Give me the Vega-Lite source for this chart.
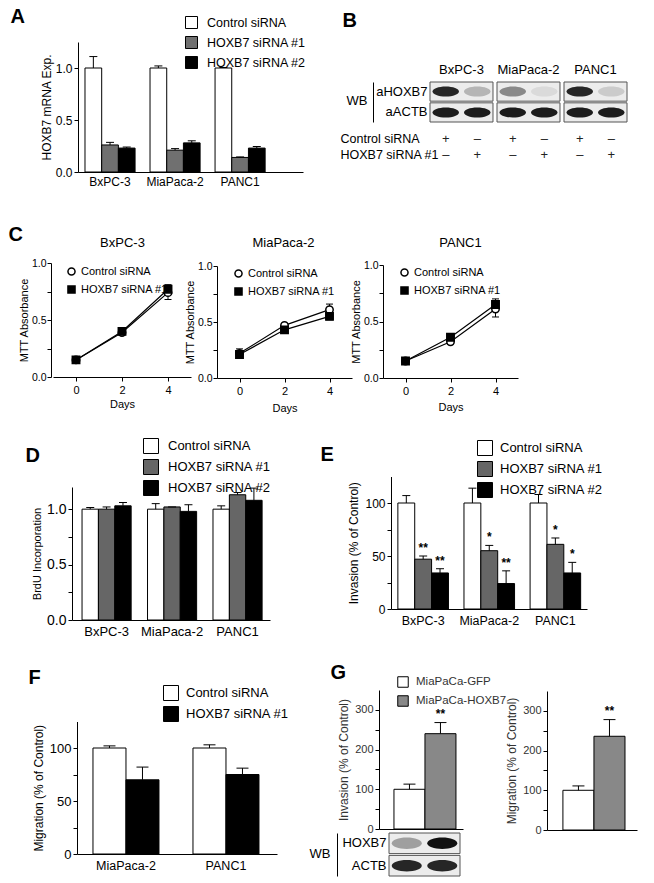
{
"$schema": "https://vega.github.io/schema/vega-lite/v6.json",
"width": 654, "height": 883,
"autosize": {"type": "none"},
"padding": 0,
"background": "white",
"config": {
 "view": {"stroke": null},
 "font": "Liberation Sans",
 "axis": {"grid": false, "domainColor": "black", "tickColor": "black", "labelColor": "black", "titleColor": "black", "titleFontWeight": "normal", "tickSize": 4, "labelFont": "Liberation Sans", "titleFont": "Liberation Sans", "labelOverlap": false, "labelFlush": false},
 "legend": {"padding": 0, "labelColor": "black", "labelFont": "Liberation Sans"},
 "text": {"font": "Liberation Sans"}
},
"datasets": {
 "A": [
  {"cell": "BxPC-3", "group": "Control siRNA", "value": 1.0, "hi": 1.11},
  {"cell": "BxPC-3", "group": "HOXB7 siRNA #1", "value": 0.26, "hi": 0.285},
  {"cell": "BxPC-3", "group": "HOXB7 siRNA #2", "value": 0.23, "hi": 0.24},
  {"cell": "MiaPaca-2", "group": "Control siRNA", "value": 1.0, "hi": 1.02},
  {"cell": "MiaPaca-2", "group": "HOXB7 siRNA #1", "value": 0.21, "hi": 0.225},
  {"cell": "MiaPaca-2", "group": "HOXB7 siRNA #2", "value": 0.28, "hi": 0.30},
  {"cell": "PANC1", "group": "Control siRNA", "value": 1.0, "hi": 1.005},
  {"cell": "PANC1", "group": "HOXB7 siRNA #1", "value": 0.14, "hi": 0.145},
  {"cell": "PANC1", "group": "HOXB7 siRNA #2", "value": 0.23, "hi": 0.245}
 ],
 "D": [
  {"cell": "BxPC-3", "group": "Control siRNA", "value": 1.0, "hi": 1.015},
  {"cell": "BxPC-3", "group": "HOXB7 siRNA #1", "value": 1.0, "hi": 1.02},
  {"cell": "BxPC-3", "group": "HOXB7 siRNA #2", "value": 1.03, "hi": 1.06},
  {"cell": "MiaPaca-2", "group": "Control siRNA", "value": 1.0, "hi": 1.05},
  {"cell": "MiaPaca-2", "group": "HOXB7 siRNA #1", "value": 1.02, "hi": 1.02},
  {"cell": "MiaPaca-2", "group": "HOXB7 siRNA #2", "value": 0.98, "hi": 1.04},
  {"cell": "PANC1", "group": "Control siRNA", "value": 1.0, "hi": 1.03},
  {"cell": "PANC1", "group": "HOXB7 siRNA #1", "value": 1.13, "hi": 1.15},
  {"cell": "PANC1", "group": "HOXB7 siRNA #2", "value": 1.08, "hi": 1.19}
 ],
 "E": [
  {"cell": "BxPC-3", "group": "Control siRNA", "value": 100, "hi": 107, "stars": ""},
  {"cell": "BxPC-3", "group": "HOXB7 siRNA #1", "value": 47, "hi": 50, "stars": "**"},
  {"cell": "BxPC-3", "group": "HOXB7 siRNA #2", "value": 34, "hi": 38, "stars": "**"},
  {"cell": "MiaPaca-2", "group": "Control siRNA", "value": 100, "hi": 114, "stars": ""},
  {"cell": "MiaPaca-2", "group": "HOXB7 siRNA #1", "value": 55, "hi": 60, "stars": "*"},
  {"cell": "MiaPaca-2", "group": "HOXB7 siRNA #2", "value": 24, "hi": 36, "stars": "**"},
  {"cell": "PANC1", "group": "Control siRNA", "value": 100, "hi": 108, "stars": ""},
  {"cell": "PANC1", "group": "HOXB7 siRNA #1", "value": 61, "hi": 67, "stars": "*"},
  {"cell": "PANC1", "group": "HOXB7 siRNA #2", "value": 34, "hi": 44, "stars": "*"}
 ],
 "F": [
  {"cell": "MiaPaca-2", "group": "Control siRNA", "value": 100, "hi": 102},
  {"cell": "MiaPaca-2", "group": "HOXB7 siRNA #1", "value": 70, "hi": 82},
  {"cell": "PANC1", "group": "Control siRNA", "value": 100, "hi": 103},
  {"cell": "PANC1", "group": "HOXB7 siRNA #1", "value": 75, "hi": 81}
 ],
 "G1": [
  {"group": "MiaPaCa-GFP", "value": 100, "hi": 113, "stars": ""},
  {"group": "MiaPaCa-HOXB7", "value": 240, "hi": 268, "stars": "**"}
 ],
 "G2": [
  {"group": "MiaPaCa-GFP", "value": 100, "hi": 111, "stars": ""},
  {"group": "MiaPaCa-HOXB7", "value": 236, "hi": 278, "stars": "**"}
 ],
 "C": [
  {"chart": "BxPC-3", "series": "Control siRNA", "day": 0, "value": 0.15, "lo": 0.14, "hi": 0.16},
  {"chart": "BxPC-3", "series": "Control siRNA", "day": 2, "value": 0.39, "lo": 0.375, "hi": 0.405},
  {"chart": "BxPC-3", "series": "Control siRNA", "day": 4, "value": 0.74, "lo": 0.68, "hi": 0.80},
  {"chart": "BxPC-3", "series": "HOXB7 siRNA #1", "day": 0, "value": 0.15, "lo": 0.14, "hi": 0.16},
  {"chart": "BxPC-3", "series": "HOXB7 siRNA #1", "day": 2, "value": 0.40, "lo": 0.39, "hi": 0.41},
  {"chart": "BxPC-3", "series": "HOXB7 siRNA #1", "day": 4, "value": 0.77, "lo": 0.73, "hi": 0.81},
  {"chart": "MiaPaca-2", "series": "Control siRNA", "day": 0, "value": 0.22, "lo": 0.18, "hi": 0.26},
  {"chart": "MiaPaca-2", "series": "Control siRNA", "day": 2, "value": 0.47, "lo": 0.455, "hi": 0.485},
  {"chart": "MiaPaca-2", "series": "Control siRNA", "day": 4, "value": 0.61, "lo": 0.56, "hi": 0.66},
  {"chart": "MiaPaca-2", "series": "HOXB7 siRNA #1", "day": 0, "value": 0.21, "lo": 0.18, "hi": 0.24},
  {"chart": "MiaPaca-2", "series": "HOXB7 siRNA #1", "day": 2, "value": 0.43, "lo": 0.415, "hi": 0.445},
  {"chart": "MiaPaca-2", "series": "HOXB7 siRNA #1", "day": 4, "value": 0.55, "lo": 0.52, "hi": 0.58},
  {"chart": "PANC1", "series": "Control siRNA", "day": 0, "value": 0.15, "lo": 0.14, "hi": 0.16},
  {"chart": "PANC1", "series": "Control siRNA", "day": 2, "value": 0.32, "lo": 0.30, "hi": 0.34},
  {"chart": "PANC1", "series": "Control siRNA", "day": 4, "value": 0.61, "lo": 0.54, "hi": 0.68},
  {"chart": "PANC1", "series": "HOXB7 siRNA #1", "day": 0, "value": 0.15, "lo": 0.14, "hi": 0.16},
  {"chart": "PANC1", "series": "HOXB7 siRNA #1", "day": 2, "value": 0.36, "lo": 0.34, "hi": 0.38},
  {"chart": "PANC1", "series": "HOXB7 siRNA #1", "day": 4, "value": 0.65, "lo": 0.61, "hi": 0.70}
 ],
 "Bblot": [
  {"cell": "BxPC-3", "lane": "Control", "row": "aHOXB7", "intensity": 0.9},
  {"cell": "BxPC-3", "lane": "HOXB7", "row": "aHOXB7", "intensity": 0.25},
  {"cell": "MiaPaca-2", "lane": "Control", "row": "aHOXB7", "intensity": 0.45},
  {"cell": "MiaPaca-2", "lane": "HOXB7", "row": "aHOXB7", "intensity": 0.08},
  {"cell": "PANC1", "lane": "Control", "row": "aHOXB7", "intensity": 0.9},
  {"cell": "PANC1", "lane": "HOXB7", "row": "aHOXB7", "intensity": 0.15},
  {"cell": "BxPC-3", "lane": "Control", "row": "aACTB", "intensity": 0.95},
  {"cell": "BxPC-3", "lane": "HOXB7", "row": "aACTB", "intensity": 0.95},
  {"cell": "MiaPaca-2", "lane": "Control", "row": "aACTB", "intensity": 0.95},
  {"cell": "MiaPaca-2", "lane": "HOXB7", "row": "aACTB", "intensity": 0.95},
  {"cell": "PANC1", "lane": "Control", "row": "aACTB", "intensity": 0.95},
  {"cell": "PANC1", "lane": "HOXB7", "row": "aACTB", "intensity": 0.95}
 ],
 "Btable": [
  {"cell": "BxPC-3", "lane": "Control", "row": "Control siRNA", "sign": "+"},
  {"cell": "BxPC-3", "lane": "Control", "row": "HOXB7 siRNA #1", "sign": "–"},
  {"cell": "BxPC-3", "lane": "HOXB7", "row": "Control siRNA", "sign": "–"},
  {"cell": "BxPC-3", "lane": "HOXB7", "row": "HOXB7 siRNA #1", "sign": "+"},
  {"cell": "MiaPaca-2", "lane": "Control", "row": "Control siRNA", "sign": "+"},
  {"cell": "MiaPaca-2", "lane": "Control", "row": "HOXB7 siRNA #1", "sign": "–"},
  {"cell": "MiaPaca-2", "lane": "HOXB7", "row": "Control siRNA", "sign": "–"},
  {"cell": "MiaPaca-2", "lane": "HOXB7", "row": "HOXB7 siRNA #1", "sign": "+"},
  {"cell": "PANC1", "lane": "Control", "row": "Control siRNA", "sign": "+"},
  {"cell": "PANC1", "lane": "Control", "row": "HOXB7 siRNA #1", "sign": "–"},
  {"cell": "PANC1", "lane": "HOXB7", "row": "Control siRNA", "sign": "–"},
  {"cell": "PANC1", "lane": "HOXB7", "row": "HOXB7 siRNA #1", "sign": "+"}
 ],
 "Gblot": [
  {"blot": "G", "lane": "MiaPaCa-GFP", "row": "HOXB7", "intensity": 0.35},
  {"blot": "G", "lane": "MiaPaCa-HOXB7", "row": "HOXB7", "intensity": 1.0},
  {"blot": "G", "lane": "MiaPaCa-GFP", "row": "ACTB", "intensity": 0.9},
  {"blot": "G", "lane": "MiaPaCa-HOXB7", "row": "ACTB", "intensity": 0.9}
 ]
},
"resolve": {
 "scale": {"x": "independent", "y": "independent", "xOffset": "independent", "fill": "independent", "shape": "independent", "stroke": "independent", "opacity": "independent"},
 "axis": {"x": "independent", "y": "independent"},
 "legend": {"fill": "independent", "shape": "independent", "stroke": "independent", "opacity": "independent"}
},
"layer": [
 {
  "data": {"name": "A"},
  "resolve": {"axis": {"x": "independent", "y": "independent"}},
  "layer": [
   {"mark": {"type": "bar", "stroke": "black", "strokeWidth": 1},
    "encoding": {
     "x": {"field": "cell", "type": "nominal", "sort": null, "scale": {"type": "band", "domain": ["BxPC-3", "MiaPaca-2", "PANC1"], "range": [78, 303], "paddingInner": 0.23, "paddingOuter": 0.345, "align": 0.156},
           "axis": {"orient": "bottom", "offset": -711, "ticks": false, "labelPadding": 4, "labelFontSize": 12, "labelAngle": 0, "title": null}},
     "xOffset": {"field": "group", "type": "nominal", "sort": null, "scale": {"type": "band", "domain": ["Control siRNA", "HOXB7 siRNA #1", "HOXB7 siRNA #2"], "paddingInner": 0, "paddingOuter": 0}},
     "y": {"field": "value", "type": "quantitative", "scale": {"domain": [0, 1.25], "range": [172, 42], "nice": false},
           "axis": {"orient": "left", "offset": -78, "values": [0, 0.5, 1], "format": ".1f", "labelFontSize": 12, "title": "HOXB7 mRNA Exp.", "titleFontSize": 12, "titlePadding": 2}},
     "fill": {"field": "group", "type": "nominal", "sort": null, "scale": {"domain": ["Control siRNA", "HOXB7 siRNA #1", "HOXB7 siRNA #2"], "range": ["white", "#707070", "black"]},
              "legend": {"title": null, "orient": "none", "legendX": 185, "legendY": 16, "symbolType": "square", "symbolSize": 144, "symbolStrokeColor": "black", "symbolStrokeWidth": 1, "labelFontSize": 12.5, "labelOffset": 9, "rowPadding": 3}}
    }},
   {"mark": {"type": "rule", "color": "black", "strokeWidth": 1},
    "encoding": {
     "x": {"field": "cell", "type": "nominal", "sort": null,
           "axis": {"orient": "top", "offset": 0, "labels": false, "ticks": false, "domain": false, "title": "A", "titleX": 10, "titleY": 22, "titleAlign": "left", "titleBaseline": "alphabetic", "titleAngle": 0, "titleFontSize": 20, "titleFontWeight": "bold"}},
     "xOffset": {"field": "group", "type": "nominal", "sort": null},
     "y": {"field": "value", "type": "quantitative", "axis": null},
     "y2": {"field": "hi"}
    }},
   {"mark": {"type": "tick", "orient": "horizontal", "size": 8, "thickness": 1, "color": "black", "opacity": 1},
    "encoding": {
     "x": {"field": "cell", "type": "nominal", "sort": null, "axis": null},
     "xOffset": {"field": "group", "type": "nominal", "sort": null},
     "y": {"field": "hi", "type": "quantitative", "axis": null}
    }}
  ]
 },
 {
  "data": {"name": "Bblot"},
  "resolve": {"axis": {"x": "independent", "y": "independent"}},
  "layer": [
   {"mark": {"type": "rect", "fill": "#ececec", "stroke": "#555555", "strokeWidth": 1},
    "transform": [{"filter": "datum.lane === 'Control'"}],
    "encoding": {
     "x": {"field": "cell", "type": "nominal", "sort": null, "scale": {"type": "band", "domain": ["BxPC-3", "MiaPaca-2", "PANC1"], "range": [430, 627], "paddingInner": 0.06, "paddingOuter": 0},
           "axis": {"orient": "top", "offset": -80, "ticks": false, "domain": false, "labelPadding": 4, "labelFontSize": 13, "labelAngle": 0, "title": "B", "titleX": 342, "titleY": -54, "titleAlign": "left", "titleBaseline": "alphabetic", "titleAngle": 0, "titleFontSize": 20, "titleFontWeight": "bold"}},
     "y": {"field": "row", "type": "nominal", "sort": null, "scale": {"type": "band", "domain": ["aHOXB7", "aACTB"], "range": [82, 122], "paddingInner": 0.08, "paddingOuter": 0},
           "axis": {"orient": "left", "offset": -430, "ticks": false, "domain": false, "labelPadding": 3, "labelFontSize": 13, "title": null}}
    }},
   {"mark": {"type": "point", "shape": "M-1,0A1,0.38,0,1,0,1,0A1,0.38,0,1,0,-1,0Z", "filled": true, "color": "#111111", "size": 700, "strokeWidth": 0},
    "encoding": {
     "x": {"field": "cell", "type": "nominal", "sort": null, "axis": null},
     "xOffset": {"field": "lane", "type": "nominal", "sort": null, "scale": {"type": "band", "domain": ["Control", "HOXB7"], "paddingInner": 0, "paddingOuter": 0}},
     "y": {"field": "row", "type": "nominal", "sort": null,
           "axis": {"orient": "left", "offset": -373, "ticks": false, "labels": false, "domain": true, "title": "WB", "titleAngle": 0, "titleAlign": "right", "titleBaseline": "middle", "titleX": -6, "titleY": 100, "titleFontSize": 13}},
     "opacity": {"field": "intensity", "type": "quantitative", "scale": {"domain": [0, 1], "range": [0, 1]}, "legend": null}
    }}
  ]
 },
 {
  "data": {"name": "Btable"},
  "mark": {"type": "text", "fontSize": 13, "color": "#222222"},
  "encoding": {
   "x": {"field": "cell", "type": "nominal", "sort": null, "scale": {"type": "band", "domain": ["BxPC-3", "MiaPaca-2", "PANC1"], "range": [430, 627], "paddingInner": 0.06, "paddingOuter": 0}, "axis": null},
   "xOffset": {"field": "lane", "type": "nominal", "sort": null, "scale": {"type": "band", "domain": ["Control", "HOXB7"], "paddingInner": 0, "paddingOuter": 0}},
   "y": {"field": "row", "type": "nominal", "sort": null, "scale": {"type": "band", "domain": ["Control siRNA", "HOXB7 siRNA #1"], "range": [131, 163], "paddingInner": 0, "paddingOuter": 0},
         "axis": {"orient": "left", "offset": -342, "ticks": false, "domain": false, "labelAlign": "left", "labelPadding": 2, "labelFontSize": 12.5, "title": null}},
   "text": {"field": "sign"}
  }
 },
 {
  "data": {"name": "C"},
  "transform": [{"filter": "datum.chart === 'BxPC-3'"}],
  "resolve": {"axis": {"x": "independent", "y": "independent"}},
  "layer": [
   {"mark": {"type": "line", "color": "black", "strokeWidth": 1.2},
    "encoding": {
     "x": {"field": "day", "type": "quantitative", "scale": {"domain": [-1, 5], "range": [53, 191], "nice": false, "zero": false},
           "axis": {"orient": "bottom", "offset": -506, "values": [0, 2, 4], "labelFontSize": 11, "labelPadding": 3, "title": "Days", "titleFontSize": 11, "titlePadding": 3}},
     "y": {"field": "value", "type": "quantitative", "scale": {"domain": [0, 1], "range": [377, 263], "nice": false},
           "axis": {"orient": "left", "offset": -51, "values": [0, 0.25, 0.5, 0.75, 1], "labelExpr": "datum.value % 0.5 === 0 ? format(datum.value, '.1f') : ''", "labelFontSize": 10.5, "labelPadding": 1, "title": "MTT Absorbance", "titleFontSize": 11, "titlePadding": 2}},
     "detail": {"field": "series", "type": "nominal"}
    }},
   {"mark": {"type": "rule", "color": "black", "strokeWidth": 1},
    "encoding": {
     "x": {"field": "day", "type": "quantitative", "axis": {"orient": "top", "offset": 0, "labels": false, "ticks": false, "domain": false, "title": "BxPC-3", "titleX": 122, "titleY": 246, "titleAlign": "center", "titleBaseline": "alphabetic", "titleAngle": 0, "titleFontSize": 13}},
     "y": {"field": "lo", "type": "quantitative", "axis": null},
     "y2": {"field": "hi"}
    }},
   {"mark": {"type": "tick", "orient": "horizontal", "size": 7, "thickness": 1, "color": "black", "opacity": 1},
    "encoding": {"x": {"field": "day", "type": "quantitative", "axis": null}, "y": {"field": "hi", "type": "quantitative", "axis": null}}},
   {"mark": {"type": "tick", "orient": "horizontal", "size": 7, "thickness": 1, "color": "black", "opacity": 1},
    "encoding": {"x": {"field": "day", "type": "quantitative", "axis": null}, "y": {"field": "lo", "type": "quantitative", "axis": null}}},
   {"mark": {"type": "point", "filled": true, "strokeWidth": 1.5, "size": 55, "opacity": 1},
    "encoding": {
     "x": {"field": "day", "type": "quantitative", "axis": {"orient": "top", "offset": 0, "labels": false, "ticks": false, "domain": false, "title": "C", "titleX": 8, "titleY": 240, "titleAlign": "left", "titleBaseline": "alphabetic", "titleAngle": 0, "titleFontSize": 20, "titleFontWeight": "bold"}},
     "y": {"field": "value", "type": "quantitative", "axis": null},
     "shape": {"field": "series", "type": "nominal", "sort": null, "scale": {"domain": ["Control siRNA", "HOXB7 siRNA #1"], "range": ["circle", "square"]},
               "legend": {"title": null, "orient": "none", "legendX": 66, "legendY": 266, "symbolSize": 50, "symbolStrokeWidth": 1.5, "labelFontSize": 11, "labelOffset": 4, "rowPadding": 3}},
     "fill": {"field": "series", "type": "nominal", "sort": null, "scale": {"domain": ["Control siRNA", "HOXB7 siRNA #1"], "range": ["white", "black"]},
              "legend": {"title": null, "orient": "none", "legendX": 66, "legendY": 266, "symbolSize": 50, "symbolStrokeWidth": 1.5, "labelFontSize": 11, "labelOffset": 4, "rowPadding": 3}},
     "stroke": {"field": "series", "type": "nominal", "sort": null, "scale": {"domain": ["Control siRNA", "HOXB7 siRNA #1"], "range": ["black", "black"]},
              "legend": {"title": null, "orient": "none", "legendX": 66, "legendY": 266, "symbolSize": 50, "symbolStrokeWidth": 1.5, "labelFontSize": 11, "labelOffset": 4, "rowPadding": 3}}
    }}
  ]
 },
 {
  "data": {"name": "C"},
  "transform": [{"filter": "datum.chart === 'MiaPaca-2'"}],
  "resolve": {"axis": {"x": "independent", "y": "independent"}},
  "layer": [
   {"mark": {"type": "line", "color": "black", "strokeWidth": 1.2},
    "encoding": {
     "x": {"field": "day", "type": "quantitative", "scale": {"domain": [-1, 5], "range": [217, 352], "nice": false, "zero": false},
           "axis": {"orient": "bottom", "offset": -505, "values": [0, 2, 4], "labelFontSize": 11, "labelPadding": 3, "title": "Days", "titleFontSize": 11, "titlePadding": 6}},
     "y": {"field": "value", "type": "quantitative", "scale": {"domain": [0, 1], "range": [378, 266], "nice": false},
           "axis": {"orient": "left", "offset": -217, "values": [0, 0.25, 0.5, 0.75, 1], "labelExpr": "datum.value % 0.5 === 0 ? format(datum.value, '.1f') : ''", "labelFontSize": 10.5, "labelPadding": 1, "title": "MTT Absorbance", "titleFontSize": 11, "titlePadding": 2}},
     "detail": {"field": "series", "type": "nominal"}
    }},
   {"mark": {"type": "rule", "color": "black", "strokeWidth": 1},
    "encoding": {
     "x": {"field": "day", "type": "quantitative", "axis": {"orient": "top", "offset": 0, "labels": false, "ticks": false, "domain": false, "title": "MiaPaca-2", "titleX": 283, "titleY": 246, "titleAlign": "center", "titleBaseline": "alphabetic", "titleAngle": 0, "titleFontSize": 13}},
     "y": {"field": "lo", "type": "quantitative", "axis": null},
     "y2": {"field": "hi"}
    }},
   {"mark": {"type": "tick", "orient": "horizontal", "size": 7, "thickness": 1, "color": "black", "opacity": 1},
    "encoding": {"x": {"field": "day", "type": "quantitative", "axis": null}, "y": {"field": "hi", "type": "quantitative", "axis": null}}},
   {"mark": {"type": "tick", "orient": "horizontal", "size": 7, "thickness": 1, "color": "black", "opacity": 1},
    "encoding": {"x": {"field": "day", "type": "quantitative", "axis": null}, "y": {"field": "lo", "type": "quantitative", "axis": null}}},
   {"mark": {"type": "point", "filled": true, "strokeWidth": 1.5, "size": 55, "opacity": 1},
    "encoding": {
     "x": {"field": "day", "type": "quantitative", "axis": null},
     "y": {"field": "value", "type": "quantitative", "axis": null},
     "shape": {"field": "series", "type": "nominal", "sort": null, "scale": {"domain": ["Control siRNA", "HOXB7 siRNA #1"], "range": ["circle", "square"]},
               "legend": {"title": null, "orient": "none", "legendX": 233, "legendY": 268, "symbolSize": 50, "symbolStrokeWidth": 1.5, "labelFontSize": 11, "labelOffset": 4, "rowPadding": 3}},
     "fill": {"field": "series", "type": "nominal", "sort": null, "scale": {"domain": ["Control siRNA", "HOXB7 siRNA #1"], "range": ["white", "black"]},
              "legend": {"title": null, "orient": "none", "legendX": 233, "legendY": 268, "symbolSize": 50, "symbolStrokeWidth": 1.5, "labelFontSize": 11, "labelOffset": 4, "rowPadding": 3}},
     "stroke": {"field": "series", "type": "nominal", "sort": null, "scale": {"domain": ["Control siRNA", "HOXB7 siRNA #1"], "range": ["black", "black"]},
              "legend": {"title": null, "orient": "none", "legendX": 233, "legendY": 268, "symbolSize": 50, "symbolStrokeWidth": 1.5, "labelFontSize": 11, "labelOffset": 4, "rowPadding": 3}}
    }}
  ]
 },
 {
  "data": {"name": "C"},
  "transform": [{"filter": "datum.chart === 'PANC1'"}],
  "resolve": {"axis": {"x": "independent", "y": "independent"}},
  "layer": [
   {"mark": {"type": "line", "color": "black", "strokeWidth": 1.2},
    "encoding": {
     "x": {"field": "day", "type": "quantitative", "scale": {"domain": [-1, 5], "range": [383, 518], "nice": false, "zero": false},
           "axis": {"orient": "bottom", "offset": -505, "values": [0, 2, 4], "labelFontSize": 11, "labelPadding": 3, "title": "Days", "titleFontSize": 11, "titlePadding": 5}},
     "y": {"field": "value", "type": "quantitative", "scale": {"domain": [0, 1], "range": [378, 265], "nice": false},
           "axis": {"orient": "left", "offset": -383, "values": [0, 0.25, 0.5, 0.75, 1], "labelExpr": "datum.value % 0.5 === 0 ? format(datum.value, '.1f') : ''", "labelFontSize": 10.5, "labelPadding": 1, "title": "MTT Absorbance", "titleFontSize": 11, "titlePadding": 2}},
     "detail": {"field": "series", "type": "nominal"}
    }},
   {"mark": {"type": "rule", "color": "black", "strokeWidth": 1},
    "encoding": {
     "x": {"field": "day", "type": "quantitative", "axis": {"orient": "top", "offset": 0, "labels": false, "ticks": false, "domain": false, "title": "PANC1", "titleX": 460, "titleY": 246, "titleAlign": "center", "titleBaseline": "alphabetic", "titleAngle": 0, "titleFontSize": 13}},
     "y": {"field": "lo", "type": "quantitative", "axis": null},
     "y2": {"field": "hi"}
    }},
   {"mark": {"type": "tick", "orient": "horizontal", "size": 7, "thickness": 1, "color": "black", "opacity": 1},
    "encoding": {"x": {"field": "day", "type": "quantitative", "axis": null}, "y": {"field": "hi", "type": "quantitative", "axis": null}}},
   {"mark": {"type": "tick", "orient": "horizontal", "size": 7, "thickness": 1, "color": "black", "opacity": 1},
    "encoding": {"x": {"field": "day", "type": "quantitative", "axis": null}, "y": {"field": "lo", "type": "quantitative", "axis": null}}},
   {"mark": {"type": "point", "filled": true, "strokeWidth": 1.5, "size": 55, "opacity": 1},
    "encoding": {
     "x": {"field": "day", "type": "quantitative", "axis": null},
     "y": {"field": "value", "type": "quantitative", "axis": null},
     "shape": {"field": "series", "type": "nominal", "sort": null, "scale": {"domain": ["Control siRNA", "HOXB7 siRNA #1"], "range": ["circle", "square"]},
               "legend": {"title": null, "orient": "none", "legendX": 399, "legendY": 267, "symbolSize": 50, "symbolStrokeWidth": 1.5, "labelFontSize": 11, "labelOffset": 4, "rowPadding": 3}},
     "fill": {"field": "series", "type": "nominal", "sort": null, "scale": {"domain": ["Control siRNA", "HOXB7 siRNA #1"], "range": ["white", "black"]},
              "legend": {"title": null, "orient": "none", "legendX": 399, "legendY": 267, "symbolSize": 50, "symbolStrokeWidth": 1.5, "labelFontSize": 11, "labelOffset": 4, "rowPadding": 3}},
     "stroke": {"field": "series", "type": "nominal", "sort": null, "scale": {"domain": ["Control siRNA", "HOXB7 siRNA #1"], "range": ["black", "black"]},
              "legend": {"title": null, "orient": "none", "legendX": 399, "legendY": 267, "symbolSize": 50, "symbolStrokeWidth": 1.5, "labelFontSize": 11, "labelOffset": 4, "rowPadding": 3}}
    }}
  ]
 },
 {
  "data": {"name": "D"},
  "resolve": {"axis": {"x": "independent", "y": "independent"}},
  "layer": [
   {"mark": {"type": "bar", "stroke": "black", "strokeWidth": 1},
    "encoding": {
     "x": {"field": "cell", "type": "nominal", "sort": null, "scale": {"type": "band", "domain": ["BxPC-3", "MiaPaca-2", "PANC1"], "range": [72, 270], "paddingInner": 0.25, "paddingOuter": 0.137, "align": 0.56},
           "axis": {"orient": "bottom", "offset": -263, "ticks": false, "labelPadding": 5, "labelFontSize": 13, "labelAngle": 0, "title": null}},
     "xOffset": {"field": "group", "type": "nominal", "sort": null, "scale": {"type": "band", "domain": ["Control siRNA", "HOXB7 siRNA #1", "HOXB7 siRNA #2"], "paddingInner": 0, "paddingOuter": 0}},
     "y": {"field": "value", "type": "quantitative", "scale": {"domain": [0, 1.2], "range": [620, 487], "nice": false},
           "axis": {"orient": "left", "offset": -72, "values": [0, 0.25, 0.5, 0.75, 1], "labelExpr": "datum.value % 0.5 === 0 ? format(datum.value, '.1f') : ''", "labelFontSize": 14, "title": "BrdU Incorporation", "titleFontSize": 11}},
     "fill": {"field": "group", "type": "nominal", "sort": null, "scale": {"domain": ["Control siRNA", "HOXB7 siRNA #1", "HOXB7 siRNA #2"], "range": ["white", "#666666", "black"]},
              "legend": {"title": null, "orient": "none", "legendX": 143, "legendY": 438, "symbolType": "square", "symbolSize": 225, "symbolStrokeColor": "black", "symbolStrokeWidth": 1, "labelFontSize": 13, "labelOffset": 9, "rowPadding": 1}}
    }},
   {"mark": {"type": "rule", "color": "black", "strokeWidth": 1},
    "encoding": {
     "x": {"field": "cell", "type": "nominal", "sort": null,
           "axis": {"orient": "top", "offset": 0, "labels": false, "ticks": false, "domain": false, "title": "D", "titleX": 25, "titleY": 461, "titleAlign": "left", "titleBaseline": "alphabetic", "titleAngle": 0, "titleFontSize": 20, "titleFontWeight": "bold"}},
     "xOffset": {"field": "group", "type": "nominal", "sort": null},
     "y": {"field": "value", "type": "quantitative", "axis": null},
     "y2": {"field": "hi"}
    }},
   {"mark": {"type": "tick", "orient": "horizontal", "size": 8, "thickness": 1, "color": "black", "opacity": 1},
    "encoding": {
     "x": {"field": "cell", "type": "nominal", "sort": null, "axis": null},
     "xOffset": {"field": "group", "type": "nominal", "sort": null},
     "y": {"field": "hi", "type": "quantitative", "axis": null}
    }}
  ]
 },
 {
  "data": {"name": "E"},
  "resolve": {"axis": {"x": "independent", "y": "independent"}},
  "layer": [
   {"mark": {"type": "bar", "stroke": "black", "strokeWidth": 1},
    "encoding": {
     "x": {"field": "cell", "type": "nominal", "sort": null, "scale": {"type": "band", "domain": ["BxPC-3", "MiaPaca-2", "PANC1"], "range": [391, 587], "paddingInner": 0.235, "paddingOuter": 0.1, "align": 0.52},
           "axis": {"orient": "bottom", "offset": -274, "ticks": false, "labelPadding": 5, "labelFontSize": 12.5, "labelAngle": 0, "title": null}},
     "xOffset": {"field": "group", "type": "nominal", "sort": null, "scale": {"type": "band", "domain": ["Control siRNA", "HOXB7 siRNA #1", "HOXB7 siRNA #2"], "paddingInner": 0, "paddingOuter": 0}},
     "y": {"field": "value", "type": "quantitative", "scale": {"domain": [0, 125], "range": [609, 476.5], "nice": false},
           "axis": {"orient": "left", "offset": -391, "values": [0, 25, 50, 75, 100], "labelExpr": "datum.value % 50 === 0 ? datum.label : ''", "labelFontSize": 12, "title": "Invasion (% of Control)", "titleFontSize": 12}},
     "fill": {"field": "group", "type": "nominal", "sort": null, "scale": {"domain": ["Control siRNA", "HOXB7 siRNA #1", "HOXB7 siRNA #2"], "range": ["white", "#666666", "black"]},
              "legend": {"title": null, "orient": "none", "legendX": 477, "legendY": 440, "symbolType": "square", "symbolSize": 225, "symbolStrokeColor": "black", "symbolStrokeWidth": 1, "labelFontSize": 13, "labelOffset": 7, "rowPadding": 1}}
    }},
   {"mark": {"type": "rule", "color": "black", "strokeWidth": 1},
    "encoding": {
     "x": {"field": "cell", "type": "nominal", "sort": null,
           "axis": {"orient": "top", "offset": 0, "labels": false, "ticks": false, "domain": false, "title": "E", "titleX": 320, "titleY": 460, "titleAlign": "left", "titleBaseline": "alphabetic", "titleAngle": 0, "titleFontSize": 20, "titleFontWeight": "bold"}},
     "xOffset": {"field": "group", "type": "nominal", "sort": null},
     "y": {"field": "value", "type": "quantitative", "axis": null},
     "y2": {"field": "hi"}
    }},
   {"mark": {"type": "tick", "orient": "horizontal", "size": 8, "thickness": 1, "color": "black", "opacity": 1},
    "encoding": {
     "x": {"field": "cell", "type": "nominal", "sort": null, "axis": null},
     "xOffset": {"field": "group", "type": "nominal", "sort": null},
     "y": {"field": "hi", "type": "quantitative", "axis": null}
    }},
   {"mark": {"type": "text", "baseline": "bottom", "dy": -1, "fontSize": 12, "fontWeight": "bold", "color": "black"},
    "encoding": {
     "x": {"field": "cell", "type": "nominal", "sort": null, "axis": null},
     "xOffset": {"field": "group", "type": "nominal", "sort": null},
     "y": {"field": "hi", "type": "quantitative", "axis": null},
     "text": {"field": "stars"}
    }}
  ]
 },
 {
  "data": {"name": "F"},
  "resolve": {"axis": {"x": "independent", "y": "independent"}},
  "layer": [
   {"mark": {"type": "bar", "stroke": "black", "strokeWidth": 1},
    "encoding": {
     "x": {"field": "cell", "type": "nominal", "sort": null, "scale": {"type": "band", "domain": ["MiaPaca-2", "PANC1"], "range": [77, 277], "paddingInner": 0.34, "paddingOuter": 0.17, "align": 0.47},
           "axis": {"orient": "bottom", "offset": -29, "ticks": false, "labelPadding": 5, "labelFontSize": 12.5, "labelAngle": 0, "title": null}},
     "xOffset": {"field": "group", "type": "nominal", "sort": null, "scale": {"type": "band", "domain": ["Control siRNA", "HOXB7 siRNA #1"], "paddingInner": 0, "paddingOuter": 0}},
     "y": {"field": "value", "type": "quantitative", "scale": {"domain": [0, 125], "range": [854, 721.5], "nice": false},
           "axis": {"orient": "left", "offset": -77, "values": [0, 25, 50, 75, 100], "labelExpr": "datum.value % 50 === 0 ? datum.label : ''", "labelFontSize": 13, "title": "Migration (% of Control)", "titleFontSize": 12}},
     "fill": {"field": "group", "type": "nominal", "sort": null, "scale": {"domain": ["Control siRNA", "HOXB7 siRNA #1"], "range": ["white", "black"]},
              "legend": {"title": null, "orient": "none", "legendX": 163, "legendY": 685, "symbolType": "square", "symbolSize": 225, "symbolStrokeColor": "black", "symbolStrokeWidth": 1, "labelFontSize": 13, "labelOffset": 7, "rowPadding": 1}}
    }},
   {"mark": {"type": "rule", "color": "black", "strokeWidth": 1},
    "encoding": {
     "x": {"field": "cell", "type": "nominal", "sort": null,
           "axis": {"orient": "top", "offset": 0, "labels": false, "ticks": false, "domain": false, "title": "F", "titleX": 28, "titleY": 683, "titleAlign": "left", "titleBaseline": "alphabetic", "titleAngle": 0, "titleFontSize": 20, "titleFontWeight": "bold"}},
     "xOffset": {"field": "group", "type": "nominal", "sort": null},
     "y": {"field": "value", "type": "quantitative", "axis": null},
     "y2": {"field": "hi"}
    }},
   {"mark": {"type": "tick", "orient": "horizontal", "size": 12, "thickness": 1, "color": "black", "opacity": 1},
    "encoding": {
     "x": {"field": "cell", "type": "nominal", "sort": null, "axis": null},
     "xOffset": {"field": "group", "type": "nominal", "sort": null},
     "y": {"field": "hi", "type": "quantitative", "axis": null}
    }}
  ]
 },
 {
  "data": {"name": "G1"},
  "resolve": {"axis": {"x": "independent", "y": "independent"}},
  "layer": [
   {"mark": {"type": "bar", "stroke": "black", "strokeWidth": 1},
    "encoding": {
     "x": {"field": "group", "type": "nominal", "sort": null, "scale": {"type": "band", "domain": ["MiaPaCa-GFP", "MiaPaCa-HOXB7"], "range": [379, 463], "paddingInner": 0, "paddingOuter": 0.355, "align": 0.68},
           "axis": {"orient": "bottom", "offset": -54, "ticks": false, "labels": false, "title": null}},
     "y": {"field": "value", "type": "quantitative", "scale": {"domain": [0, 350], "range": [829, 690], "nice": false},
           "axis": {"orient": "left", "offset": -379, "values": [0, 50, 100, 150, 200, 250, 300], "labelExpr": "datum.value % 100 === 0 ? datum.label : ''", "labelFontSize": 11, "labelColor": "#333333", "title": "Invasion (% of Control)", "titleFontSize": 12, "titleColor": "#333333"}},
     "fill": {"field": "group", "type": "nominal", "sort": null, "scale": {"domain": ["MiaPaCa-GFP", "MiaPaCa-HOXB7"], "range": ["white", "#888888"]},
              "legend": {"title": null, "orient": "none", "legendX": 397, "legendY": 676, "symbolType": "square", "symbolSize": 110, "symbolStrokeColor": "black", "symbolStrokeWidth": 1, "labelFontSize": 11.5, "labelColor": "#333333", "labelOffset": 7, "rowPadding": 3}}
    }},
   {"mark": {"type": "rule", "color": "black", "strokeWidth": 1},
    "encoding": {
     "x": {"field": "group", "type": "nominal", "sort": null,
           "axis": {"orient": "top", "offset": 0, "labels": false, "ticks": false, "domain": false, "title": "G", "titleX": 330, "titleY": 678, "titleAlign": "left", "titleBaseline": "alphabetic", "titleAngle": 0, "titleFontSize": 20, "titleFontWeight": "bold"}},
     "y": {"field": "value", "type": "quantitative", "axis": null},
     "y2": {"field": "hi"}
    }},
   {"mark": {"type": "tick", "orient": "horizontal", "size": 12, "thickness": 1, "color": "black", "opacity": 1},
    "encoding": {
     "x": {"field": "group", "type": "nominal", "sort": null, "axis": null},
     "y": {"field": "hi", "type": "quantitative", "axis": null}
    }},
   {"mark": {"type": "text", "baseline": "bottom", "dy": -2, "fontSize": 12, "fontWeight": "bold", "color": "black"},
    "encoding": {
     "x": {"field": "group", "type": "nominal", "sort": null, "axis": null},
     "y": {"field": "hi", "type": "quantitative", "axis": null},
     "text": {"field": "stars"}
    }}
  ]
 },
 {
  "data": {"name": "Gblot"},
  "resolve": {"scale": {"x": "independent"}, "axis": {"x": "independent", "y": "independent"}},
  "layer": [
   {"mark": {"type": "rect", "fill": "#ececec", "stroke": "#555555", "strokeWidth": 1},
    "transform": [{"filter": "datum.lane === 'MiaPaCa-GFP'"}],
    "encoding": {
     "x": {"field": "blot", "type": "nominal", "scale": {"type": "band", "domain": ["G"], "range": [389, 460], "paddingInner": 0, "paddingOuter": 0}, "axis": null},
     "y": {"field": "row", "type": "nominal", "sort": null, "scale": {"type": "band", "domain": ["HOXB7", "ACTB"], "range": [833, 876], "paddingInner": 0.08, "paddingOuter": 0},
           "axis": {"orient": "left", "offset": -389, "ticks": false, "domain": false, "labelPadding": 3, "labelFontSize": 13, "title": null}}
    }},
   {"mark": {"type": "point", "shape": "M-1,0A1,0.38,0,1,0,1,0A1,0.38,0,1,0,-1,0Z", "filled": true, "color": "#111111", "size": 900, "strokeWidth": 0},
    "encoding": {
     "x": {"field": "lane", "type": "nominal", "sort": null, "scale": {"type": "band", "domain": ["MiaPaCa-GFP", "MiaPaCa-HOXB7"], "range": [389, 460], "paddingInner": 0, "paddingOuter": 0}, "axis": null},
     "y": {"field": "row", "type": "nominal", "sort": null,
           "axis": {"orient": "left", "offset": -337, "ticks": false, "labels": false, "domain": true, "title": "WB", "titleAngle": 0, "titleAlign": "right", "titleBaseline": "middle", "titleX": -7, "titleY": 853, "titleFontSize": 13}},
     "opacity": {"field": "intensity", "type": "quantitative", "scale": {"domain": [0, 1], "range": [0, 1]}, "legend": null}
    }}
  ]
 },
 {
  "data": {"name": "G2"},
  "resolve": {"axis": {"x": "independent", "y": "independent"}},
  "layer": [
   {"mark": {"type": "bar", "stroke": "black", "strokeWidth": 1},
    "encoding": {
     "x": {"field": "group", "type": "nominal", "sort": null, "scale": {"type": "band", "domain": ["MiaPaCa-GFP", "MiaPaCa-HOXB7"], "range": [547, 637], "paddingInner": 0, "paddingOuter": 0.45, "align": 0.57},
           "axis": {"orient": "bottom", "offset": -53, "ticks": false, "labels": false, "title": null}},
     "y": {"field": "value", "type": "quantitative", "scale": {"domain": [0, 350], "range": [830, 691], "nice": false},
           "axis": {"orient": "left", "offset": -547, "values": [0, 50, 100, 150, 200, 250, 300], "labelExpr": "datum.value % 100 === 0 ? datum.label : ''", "labelFontSize": 11, "labelColor": "#333333", "title": "Migration (% of Control)", "titleFontSize": 12, "titleColor": "#333333"}},
     "fill": {"field": "group", "type": "nominal", "sort": null, "scale": {"domain": ["MiaPaCa-GFP", "MiaPaCa-HOXB7"], "range": ["white", "#888888"]}, "legend": null}
    }},
   {"mark": {"type": "rule", "color": "black", "strokeWidth": 1},
    "encoding": {
     "x": {"field": "group", "type": "nominal", "sort": null, "axis": null},
     "y": {"field": "value", "type": "quantitative", "axis": null},
     "y2": {"field": "hi"}
    }},
   {"mark": {"type": "tick", "orient": "horizontal", "size": 12, "thickness": 1, "color": "black", "opacity": 1},
    "encoding": {
     "x": {"field": "group", "type": "nominal", "sort": null, "axis": null},
     "y": {"field": "hi", "type": "quantitative", "axis": null}
    }},
   {"mark": {"type": "text", "baseline": "bottom", "dy": -2, "fontSize": 12, "fontWeight": "bold", "color": "black"},
    "encoding": {
     "x": {"field": "group", "type": "nominal", "sort": null, "axis": null},
     "y": {"field": "hi", "type": "quantitative", "axis": null},
     "text": {"field": "stars"}
    }}
  ]
 }
]
}
